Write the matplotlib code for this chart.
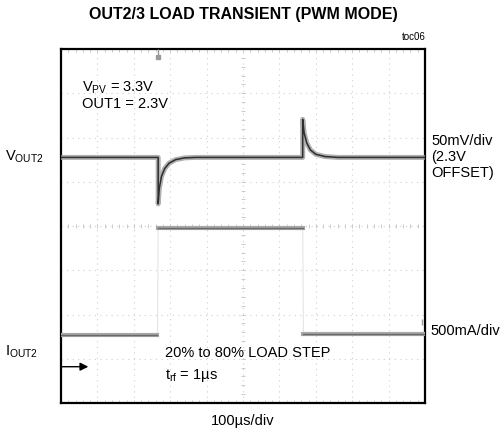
"""OUT2/3 load transient (PWM mode) scope capture, redrawn with matplotlib."""
import numpy as np
import matplotlib
matplotlib.use("Agg")
import matplotlib.pyplot as plt

plt.rcParams["font.family"] = ["Liberation Sans", "DejaVu Sans"]
plt.rcParams["mathtext.default"] = "regular"

# scope screen units: 10 horizontal divisions, 8 vertical divisions
vout_t = [0.0, 2.67, 2.67, 2.70, 2.76, 2.85, 2.97, 3.15, 3.40, 3.70,
          6.64, 6.64, 6.68, 6.75, 6.85, 7.00, 7.25, 7.60, 10.0]
vout_v = [5.55, 5.55, 4.50, 4.85, 5.12, 5.30, 5.42, 5.50, 5.54, 5.55,
          5.55, 6.41, 6.10, 5.88, 5.72, 5.62, 5.57, 5.55, 5.55]

iout_t = [0.0, 2.65, 2.67, 6.64, 6.66, 10.0]
iout_v = [1.53, 1.53, 3.95, 3.95, 1.55, 1.55]

W, H = 504, 434


def fx(px):
    return px / W


def fy(py):
    return 1 - py / H


def main() -> None:
    fig = plt.figure(figsize=(W / 100, H / 100), dpi=100)
    ax = fig.add_axes([fx(61), fy(403), (425 - 61) / W, (403 - 49) / H])
    ax.set_xlim(0, 10)
    ax.set_ylim(0, 8)

    # graticule
    for x in range(1, 10):
        ax.axvline(x, color="#cfcfcf", lw=0.8, ls=(0, (1, 4)), zorder=1)
    for y in range(1, 8):
        ax.axhline(y, color="#cfcfcf", lw=0.8, ls=(0, (1, 4)), zorder=1)
    minor = np.arange(0, 10.01, 0.2)
    minor_y = np.arange(0, 8.01, 0.2)
    for yy in (4, 7.97, 0.03):
        ax.plot(minor, [yy] * len(minor), ls="none", marker="|", ms=3,
                color="#c4c4c4", mew=0.6, zorder=1)
    ax.plot([5] * len(minor_y), minor_y, ls="none", marker="_", ms=3,
            color="#c4c4c4", mew=0.6, zorder=1)

    # VOUT2 trace (noisy band + core)
    ax.plot(vout_t, vout_v, color="#9c9c9c", lw=3.6, alpha=0.8,
            solid_joinstyle="round", zorder=3)
    ax.plot(vout_t, vout_v, color="#2e2e2e", lw=1.1, zorder=4)

    # IOUT2 trace
    ax.plot(iout_t, iout_v, color="#e4e4e4", lw=0.8, zorder=2)
    for a, b in [(0, 2), (2, 4), (4, 6)]:
        ax.plot(iout_t[a:b], iout_v[a:b], color="#a8a8a8", lw=3.0, zorder=3)
        ax.plot(iout_t[a:b], iout_v[a:b], color="#6a6a6a", lw=1.0, zorder=4)

    # trigger / ground markers
    ax.plot([2.67], [7.82], marker="s", ms=3.5, color="#9a9a9a", zorder=5)
    ax.plot([2.67], [7.93], marker="|", ms=4, color="#9a9a9a", zorder=5)
    ax.plot([9.93], [1.84], marker="|", ms=4, color="#9a9a9a", zorder=5)

    ax.annotate("", xy=(0.75, 0.82), xytext=(0.0, 0.82),
                arrowprops=dict(arrowstyle="-|>", color="black", lw=1.0,
                                mutation_scale=12, shrinkA=0, shrinkB=0))

    ax.set_xticks([])
    ax.set_yticks([])
    for s in ax.spines.values():
        s.set_linewidth(1.6)
        s.set_color("black")

    fs = 10.5
    fig.text(fx(243), fy(14), "OUT2/3 LOAD TRANSIENT (PWM MODE)",
             ha="center", va="center", fontsize=11.5, fontweight="bold")
    fig.text(fx(426), fy(37), "toc06", ha="right", va="center", fontsize=7)
    fig.text(fx(82), fy(88), "V$_{PV}$ = 3.3V", ha="left", va="center",
             fontsize=fs)
    fig.text(fx(82), fy(104), "OUT1 = 2.3V", ha="left", va="center",
             fontsize=fs)
    fig.text(fx(5), fy(157), "V$_{OUT2}$", ha="left", va="center",
             fontsize=fs)
    fig.text(fx(5), fy(352), "I$_{OUT2}$", ha="left", va="center",
             fontsize=fs)
    fig.text(fx(431), fy(141), "50mV/div", ha="left", va="center",
             fontsize=fs)
    fig.text(fx(431), fy(157), "(2.3V", ha="left", va="center", fontsize=fs)
    fig.text(fx(431), fy(173), "OFFSET)", ha="left", va="center",
             fontsize=fs)
    fig.text(fx(430), fy(331), "500mA/div", ha="left", va="center",
             fontsize=fs)
    fig.text(fx(165), fy(353), "20% to 80% LOAD STEP", ha="left",
             va="center", fontsize=fs)
    fig.text(fx(165), fy(376), "t$_{rf}$ = 1µs", ha="left", va="center",
             fontsize=fs)
    fig.text(fx(243), fy(421), "100µs/div", ha="center", va="center",
             fontsize=fs)

    fig.savefig("out.png", dpi=100)
    plt.close(fig)


if __name__ == "__main__":
    main()
